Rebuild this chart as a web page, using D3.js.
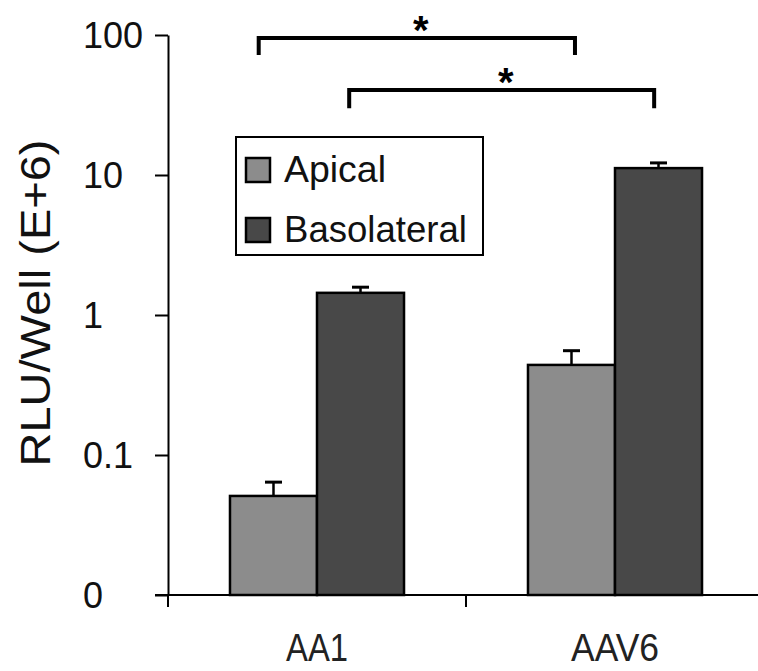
<!DOCTYPE html>
<html>
<head>
<meta charset="utf-8">
<script src="https://cdn.jsdelivr.net/npm/d3@7"></script>
<style>
  body { margin: 0; background: #fff; }
  svg text { font-family: Arial, "Liberation Sans", sans-serif; }
</style>
</head>
<body>
<svg id="chart" width="758" height="671"></svg>
<script>
// data (RLU/Well, E+6)
const categories = ["AA1", "AAV6"];
const seriesNames = ["Apical", "Basolateral"];
const apicalValues = [0.051, 0.44];
const apicalErrors = [0.064, 0.556];
const basolateralValues = [1.44, 11.2];
const basolateralErrors = [1.58, 12.2];
const yTicks = [0.01, 0.1, 1, 10, 100];
const yTickLabels = ["0", "0.1", "1", "10", "100"];
// significance brackets: [category, series, position within bar]
const brackets = [
    { from: ["AA1", "Apical", 0.33], to: ["AAV6", "Apical", 0.54], y: 95, leg: 72 },
    { from: ["AA1", "Basolateral", 0.37], to: ["AAV6", "Basolateral", 0.45], y: 40.5, leg: 30 }
];

const colors = { Apical: "#8c8c8c", Basolateral: "#484848" };

const svg = d3.select("#chart");

const y = d3.scaleLog().domain([0.01, 100]).range([595, 35]);
const x0 = d3.scaleBand().domain(categories).range([168, 764]);
const bw = x0.bandwidth();
const x1 = d3.scaleBand().domain(seriesNames).range([bw * 0.208, bw * 0.792]);

const rows = [];
categories.forEach((c, i) => {
    rows.push({ cat: c, series: "Apical", value: apicalValues[i], err: apicalErrors[i] });
    rows.push({ cat: c, series: "Basolateral", value: basolateralValues[i], err: basolateralErrors[i] });
});

// error bars (drawn first so bar top covers the stem base)
const errG = svg.append("g");
rows.forEach(d => {
    const cx = x0(d.cat) + x1(d.series) + x1.bandwidth() / 2;
    errG.append("line")
        .attr("x1", cx).attr("x2", cx)
        .attr("y1", y(d.value)).attr("y2", y(d.err))
        .attr("stroke", "#000").attr("stroke-width", 2.5);
    errG.append("line")
        .attr("x1", cx - 8.5).attr("x2", cx + 8.5)
        .attr("y1", y(d.err)).attr("y2", y(d.err))
        .attr("stroke", "#000").attr("stroke-width", 3);
});

// bars
svg.append("g").selectAll("rect")
    .data(rows)
    .enter().append("rect")
    .attr("x", d => x0(d.cat) + x1(d.series))
    .attr("y", d => y(d.value))
    .attr("width", x1.bandwidth())
    .attr("height", d => y(0.01) - y(d.value))
    .attr("fill", d => colors[d.series])
    .attr("stroke", "#000")
    .attr("stroke-width", 2.5);

// y axis
const yAxis = svg.append("g")
    .attr("transform", "translate(168,0)")
    .call(d3.axisLeft(y).tickValues(yTicks).tickSize(13).tickSizeOuter(0)
        .tickFormat((d, i) => yTickLabels[i]));
yAxis.select(".domain").attr("stroke-width", 2);
yAxis.selectAll(".tick line").attr("stroke-width", 2);
yAxis.selectAll(".tick text")
    .attr("x", -85)
    .attr("dy", "0.36em")
    .attr("text-anchor", "start")
    .attr("font-size", 36)
    .attr("fill", "#111");

// x axis
const xAxis = svg.append("g")
    .attr("transform", "translate(0,595)")
    .call(d3.axisBottom(x0).tickSize(0).tickSizeOuter(0));
xAxis.select(".domain").remove();
xAxis.append("line")
    .attr("x1", 155).attr("x2", 758)
    .attr("stroke", "#000").attr("stroke-width", 2);
xAxis.selectAll(".boundary")
    .data(categories.map(c => x0(c)).concat([x0.range()[1]]))
    .enter().append("line")
    .attr("class", "boundary")
    .attr("x1", d => d).attr("x2", d => d)
    .attr("y1", 0).attr("y2", 12)
    .attr("stroke", "#000").attr("stroke-width", 2);
const xLabelWidths = { AA1: 62, AAV6: 88 };
xAxis.selectAll(".tick text")
    .attr("y", 66)
    .attr("dy", 0)
    .attr("font-size", 38)
    .attr("fill", "#222")
    .attr("textLength", d => xLabelWidths[d])
    .attr("lengthAdjust", "spacingAndGlyphs");

// y title
svg.append("text")
    .attr("transform", "translate(50,303) rotate(-90)")
    .attr("text-anchor", "middle")
    .attr("font-size", 42)
    .attr("fill", "#111")
    .attr("textLength", 327)
    .attr("lengthAdjust", "spacingAndGlyphs")
    .text("RLU/Well (E+6)");

// legend
const legend = svg.append("g");
legend.append("rect")
    .attr("x", 236).attr("y", 137)
    .attr("width", 247).attr("height", 118)
    .attr("fill", "#fff").attr("stroke", "#000").attr("stroke-width", 2);
const legendText = { Apical: 102, Basolateral: 183 };
seriesNames.forEach((s, i) => {
    const base = 182 + i * 60;
    legend.append("rect")
        .attr("x", 246).attr("y", base - 24)
        .attr("width", 24).attr("height", 24)
        .attr("fill", colors[s]).attr("stroke", "#000").attr("stroke-width", 2.5);
    legend.append("text")
        .attr("x", 284).attr("y", base)
        .attr("font-size", 36)
        .attr("fill", "#111")
        .attr("textLength", legendText[s])
        .attr("lengthAdjust", "spacingAndGlyphs")
        .text(s);
});

// significance brackets
function barX(p) {
    return x0(p[0]) + x1(p[1]) + x1.bandwidth() * p[2];
}
brackets.forEach(b => {
    const xa = barX(b.from), xb = barX(b.to);
    svg.append("path")
        .attr("d", `M${xa},${y(b.leg)}V${y(b.y)}H${xb}V${y(b.leg)}`)
        .attr("fill", "none")
        .attr("stroke", "#000")
        .attr("stroke-width", 4);
    svg.append("text")
        .attr("x", (xa + xb) / 2 + 4)
        .attr("y", y(b.y) + 6)
        .attr("text-anchor", "middle")
        .attr("font-size", 40)
        .attr("font-weight", "bold")
        .text("*");
});
</script>
</body>
</html>
